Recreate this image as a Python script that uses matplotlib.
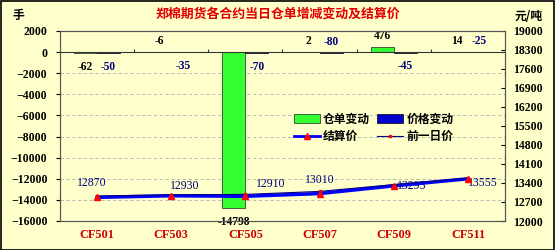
import numpy as np
import matplotlib
matplotlib.use('Agg')
import matplotlib.pyplot as plt
from matplotlib.patches import Rectangle
from matplotlib.lines import Line2D
from matplotlib.patches import Patch

plt.rcParams['font.family'] = ['Liberation Serif', 'Noto Sans CJK SC']

# data
contracts = ['CF501', 'CF503', 'CF505', 'CF507', 'CF509', 'CF511']
wr_change = [-62, -6, -14798, 2, 476, 14]          # 仓单变动 (手)
price_change = [-50, -35, -70, -80, -45, -25]      # 价格变动 (元/吨)
settle = [12870, 12930, 12910, 13010, 13295, 13555]  # 结算价
prev_price = [12920, 12965, 12980, 13090, 13340, 13580]  # 前一日价

bg = '#FFFFCC'
cjk = ['Noto Sans CJK SC', 'DejaVu Sans']

fig = plt.figure(figsize=(5.55, 2.5), dpi=100, facecolor=bg)
ax = fig.add_axes([0.108, 0.116, 0.802, 0.76])
ax.set_facecolor(bg)
ax2 = ax.twinx()

x = np.arange(len(contracts))
w = 0.31
ax.bar(x - w / 2, wr_change, w, color='#33FF33', edgecolor='#222222', linewidth=0.5, zorder=2)
ax.bar(x + w / 2, price_change, w, color='#0000CC', edgecolor='#000000', linewidth=0.5, zorder=2)

ax.set_xlim(-0.5, 5.5)
ax.set_ylim(-16000, 2000)
ax.set_yticks(np.arange(-16000, 2001, 2000))
ax.yaxis.grid(True, linestyle=(0, (4, 3)), color='#B0B0B0', linewidth=0.6)
ax.set_axisbelow(True)
ax.axhline(0, color='#333333', linewidth=0.8, zorder=3)
ax.vlines(x[:-1] + 0.5, 0, 280, color='#333333', linewidth=0.8, zorder=3)
ax.set_xticks(x)
ax.set_xticklabels(contracts, color='#CC0000', fontweight='bold', fontsize=8.8)
ax.tick_params(axis='x', length=0, pad=6)
ax.tick_params(axis='y', labelsize=8.5, length=3, direction='out', pad=6)
for t in ax.get_yticklabels():
    t.set_fontweight('bold')

# warehouse receipt labels
wr_above = [False, True, False, True, True, True]
for xi, v, up in zip(x, wr_change, wr_above):
    off = 8 if up else -10
    ax.annotate(f'{v}', (xi - w / 2, v), xytext=(0, off), textcoords='offset points',
                ha='center', va='center', fontsize=8.3, fontweight='bold', color='black')
# price change labels
price_above = [False, False, False, True, False, True]
for xi, v, up in zip(x, price_change, price_above):
    off = 8 if up else -10
    ax.annotate(f'{v}', (xi + w / 2, v), xytext=(0, off), textcoords='offset points',
                ha='center', va='center', fontsize=8.3, fontweight='bold', color='#000080')

# price lines on right axis
ax2.plot(x, settle, color='#0000FF', linewidth=2.5, marker='^', markersize=5,
         markerfacecolor='#FF0000', markeredgecolor='#FF0000', zorder=4)
ax2.plot(x, prev_price, color='#000080', linewidth=0.8, marker='s', markersize=2,
         markerfacecolor='#FF0000', markeredgecolor='#FF0000', zorder=5)
ax2.set_ylim(12000, 19000)
ax2.set_yticks(np.arange(12000, 19001, 700))
ax2.tick_params(axis='y', labelsize=8.5, length=3, direction='in', pad=6)
for t in ax2.get_yticklabels():
    t.set_fontweight('bold')

settle_off = [(-4, 10), (10, 7), (18, 9), (0, 10), (13, 0), (11, -3)]
for xi, v, o in zip(x, settle, settle_off):
    ax2.annotate(f'{v}', (xi, v), xytext=o, textcoords='offset points',
                 ha='center', va='center', fontsize=8.5, color='#000080')

for a in (ax, ax2):
    for s in a.spines.values():
        s.set_color('#555555')
        s.set_linewidth(0.8)

handles = [Patch(facecolor='#33FF33', edgecolor='#222222', linewidth=0.5),
           Line2D([], [], color='#0000FF', linewidth=2, marker='^', markersize=5,
                  markerfacecolor='#FF0000', markeredgecolor='#FF0000'),
           Patch(facecolor='#0000CC', edgecolor='#000000', linewidth=0.5),
           Line2D([], [], color='#000080', linewidth=0.8, marker='s', markersize=2,
                  markerfacecolor='#FF0000', markeredgecolor='#FF0000')]
labels = ['仓单变动', '结算价', '价格变动', '前一日价']
fig.legend(handles, labels, loc='upper left', bbox_to_anchor=(0.51, 0.592), ncol=2,
           frameon=False, prop={'family': cjk, 'weight': 'bold', 'size': 8.5},
           handlelength=2.2, handletextpad=0.3, columnspacing=0.6, labelspacing=0.35)

fig.text(0.5, 0.945, '郑棉期货各合约当日仓单增减变动及结算价', ha='center', va='center',
         color='#E00000', fontsize=9.3, fontweight='bold', family=cjk)
fig.text(0.022, 0.94, '手', ha='left', va='center', fontsize=8.5, fontweight='bold', family=cjk)
fig.text(0.928, 0.935, '元/吨', ha='left', va='center', fontsize=8.5, fontweight='bold', family=cjk)

fig.patches.append(Rectangle((0.001, 0.002), 0.997, 0.995, transform=fig.transFigure,
                             fill=False, edgecolor='black', linewidth=1.2))

fig.savefig('out.png', dpi=100, facecolor=bg)
